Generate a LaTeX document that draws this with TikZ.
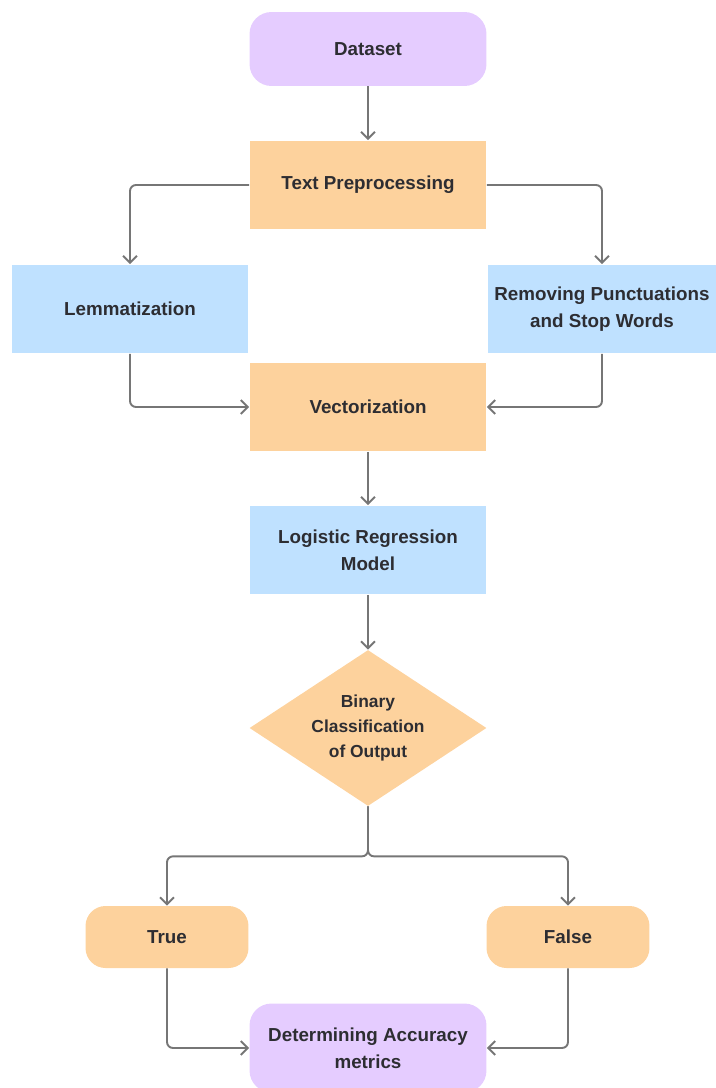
\documentclass[tikz,border=0pt]{standalone}
\usepackage{fontspec}
\setmainfont{Liberation Sans}
\usepackage{tikz}
\usetikzlibrary{arrows.meta, shapes.geometric}
\definecolor{lilac}{RGB}{229, 204, 255}
\definecolor{peach}{RGB}{253, 210, 157}
\definecolor{sky}{RGB}{191, 225, 255}
\definecolor{wire}{RGB}{118, 118, 118}
\definecolor{ink}{RGB}{45, 45, 50}
\newcommand{\boxfont}{\bfseries\fontsize{10.7}{15.5}\selectfont}

\begin{document}
\begin{tikzpicture}[x=0.02cm, y=-0.02cm,
    every node/.style={font=\boxfont, text=ink, align=center, inner sep=0pt},
    box/.style={rectangle, minimum width=4.74cm, minimum height=1.78cm},
    soft/.style={box, rounded corners=0.44cm},
    pill/.style={soft, minimum width=3.26cm, minimum height=1.24cm, rounded corners=0.4cm},
    link/.style={draw=wire, line width=1.1pt, rounded corners=0.12cm,
      -{Straight Barb[length=1.4mm, width=2.8mm]}}]
  \useasboundingbox (0, 0) rectangle (716, 1088);
  \clip (0, 0) rectangle (716, 1088);

  % boxes
  \node[soft, fill=lilac, minimum height=1.48cm] (data) at (368, 49) {Dataset};
  \node[box, fill=peach] (prep) at (368, 185) {Text Preprocessing};
  \node[box, fill=sky] (lemma) at (130, 309) {Lemmatization};
  \node[box, fill=sky, minimum width=4.58cm] (punct) at (602, 309)
    {Removing Punctuations\\and Stop Words};
  \node[box, fill=peach] (vect) at (368, 407) {Vectorization};
  \node[box, fill=sky] (model) at (368, 550) {Logistic Regression\\Model};
  \node[diamond, fill=peach, aspect=1.52, minimum width=4.74cm, minimum height=3.12cm,
    font=\bfseries\fontsize{9.9}{14.5}\selectfont] (binary) at (368, 728)
    {Binary\\Classification\\of Output};
  \node[pill, fill=peach] (true) at (167, 937) {True};
  \node[pill, fill=peach] (false) at (568, 937) {False};
  \node[soft, fill=lilac] (acc) at (368, 1048) {Determining Accuracy\\metrics};

  % straight down
  \foreach \a/\b in {data/prep, vect/model, model/binary} {
    \draw[link] (\a) -- (\b);
  };

  % split and join
  \draw[link] (prep.west) -| (lemma.north);
  \draw[link] (prep.east) -| (punct.north);
  \draw[link] (lemma.south) |- (vect.west);
  \draw[link] (punct.south) |- (vect.east);

  \draw[link] (binary.south) -- ++(0, 50) -| (true.north);
  \draw[link] (binary.south) -- ++(0, 50) -| (false.north);
  \draw[link] (true.south) |- (acc.west);
  \draw[link] (false.south) |- (acc.east);

\end{tikzpicture}
\end{document}
